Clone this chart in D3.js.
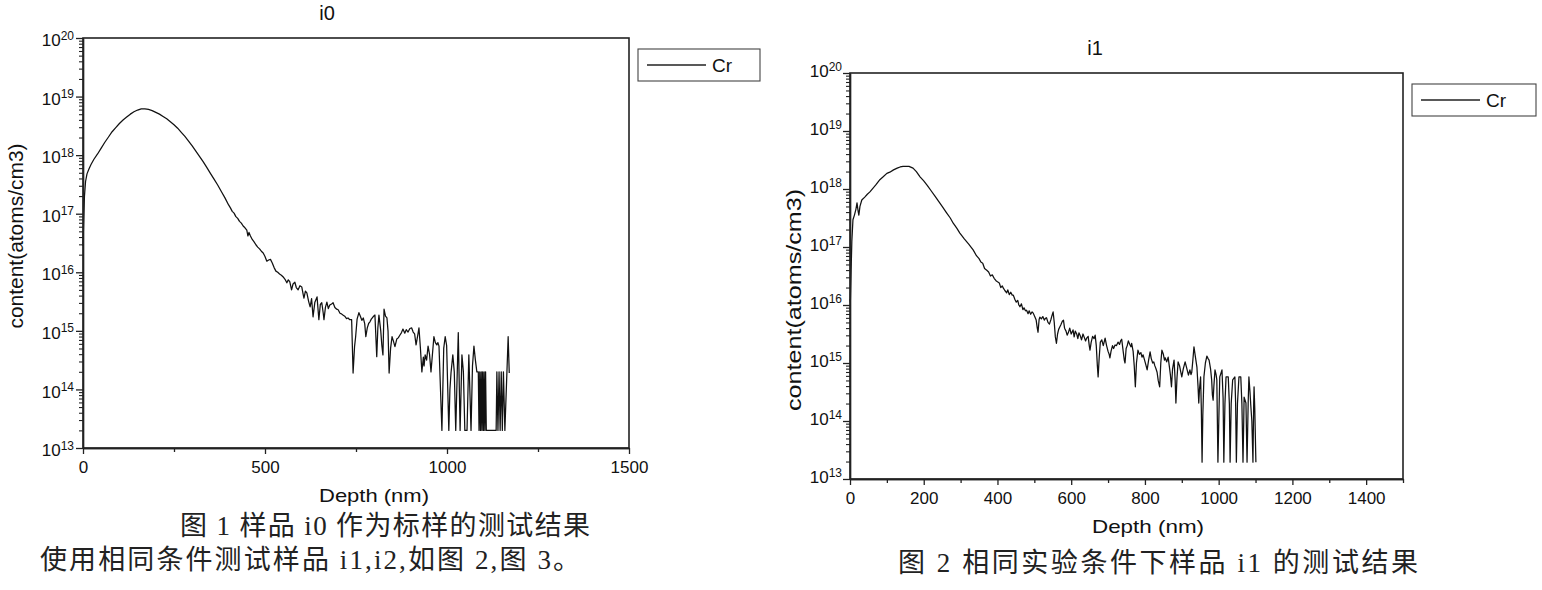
<!DOCTYPE html>
<html>
<head>
<meta charset="utf-8">
<script src="https://cdn.jsdelivr.net/npm/d3@7"></script>
<style>
html,body{margin:0;padding:0;background:#fff;}
svg{display:block;}
</style>
</head>
<body>
<svg id="chart" width="1542" height="590"></svg>
<script>
// ---------------- DATA ----------------
// Depth in nm; content stored as log10(atoms/cm3) as read on the log axis.
const i0Depth = [
  0,2,4,7,11,16,22,30,
  40,50,60,70,80,90,100,110,120,130,140,150,160,170,180,190,200,210,220,230,240,250,260,270,280,290,300,310,320,330,340,350,360,370,380,390,400,
  405,410,415,420,425,430,435,440,445,450,
  453,456,460,465,470,475,480,485,490,495,500,505,510,515,520,525,530,535,540,545,550,555,560,
  564,568,573,577,582,586,591,596,601,605,607,611,615,620,624,628,632,637,643,648,
  652,656,660,662,666,670,674,678,683,687,692,697,701,706,710,714,719,724,728,733,738,
  742,746,749,753,758,762,766,770,774,777,781,785,788,792,797,802,
  807,810,813,818,821,824,827,831,835,838,841,845,849,853,857,862,866,870,875,879,
  884,888,893,898,903,907,911,915,919,923,927,931,935,937,940,944,948,952,956,960,
  964,968,972,975,978,986,991,995,999,1005,1008,1011,1016,1020,1024,1031,1036,1041,1045,1049,
  1055,1060,1066,1070,1074,1078,1082,1086,1088,1090,1092,1094,1096,1098,1100,1102,1104,1106,1108,
  1113,1120,1128,1135,1137,1140,1143,1146,1149,1152,1155,1159,1168,1171
];
const i0LogContent = [
  16.45,16.9,17.3,17.55,17.68,17.76,17.84,17.93,
  18.02,18.12,18.22,18.31,18.40,18.47,18.54,18.60,18.65,18.70,18.74,18.77,18.79,18.79,18.78,18.76,18.73,18.70,18.66,18.62,18.57,18.52,18.46,18.39,18.32,18.24,18.16,18.07,17.98,17.89,17.79,17.69,17.59,17.49,17.38,17.27,17.15,
  17.10,17.04,17.01,16.95,16.92,16.87,16.84,16.79,16.76,16.72,
  16.62,16.68,16.62,16.56,16.52,16.47,16.43,16.40,16.36,16.33,16.27,16.19,16.21,16.22,16.16,16.08,16.02,16.00,15.97,15.95,15.92,15.88,15.82,
  15.87,15.84,15.70,15.80,15.83,15.74,15.70,15.77,15.75,15.62,15.56,15.68,15.65,15.50,15.41,15.55,15.24,15.49,15.58,15.19,
  15.45,15.48,15.30,15.19,15.40,15.49,15.38,15.44,15.46,15.48,15.40,15.37,15.36,15.30,15.29,15.27,15.25,15.21,15.22,15.19,15.19,
  14.28,14.73,14.90,15.20,15.31,15.25,15.18,15.22,15.12,14.90,15.05,15.13,15.15,15.20,15.24,15.27,
  14.56,15.05,15.27,15.00,14.75,14.59,15.37,15.25,15.22,15.00,14.28,14.70,14.90,14.82,14.73,14.86,14.88,14.92,14.97,15.03,
  14.96,15.02,14.98,15.04,15.05,14.98,14.95,14.76,14.90,15.05,14.70,14.30,14.55,14.40,14.59,14.50,14.74,14.60,14.30,14.60,
  14.90,14.80,14.76,14.80,14.74,13.30,14.70,14.90,14.75,13.30,14.00,14.28,14.59,14.30,13.30,14.97,13.30,14.59,14.30,13.30,
  13.30,14.59,13.30,14.40,14.74,14.50,14.30,14.30,13.30,14.30,13.30,14.30,13.30,14.30,13.30,14.30,13.30,14.30,13.30,
  13.30,13.30,13.30,13.30,14.30,13.30,14.30,13.30,14.30,13.30,14.30,13.30,14.90,14.28
];

const i1Depth = [
  0,1,3,5,8,12,16,19,22,24,27,32,40,47,54,62,70,81,90,100,
  108,118,128,136,144,152,160,171,180,190,200,210,220,230,240,250,262,272,280,290,
  298,310,322,334,343,350,355,360,365,371,376,381,386,391,396,400,405,409,413,416,
  420,425,428,432,436,440,443,447,451,455,458,461,465,469,472,476,479,483,486,490,
  494,497,501,505,508,510,513,515,519,523,527,530,533,537,541,545,548,551,554,557,
  560,563,566,569,572,576,579,582,586,589,592,596,600,605,608,611,615,618,621,624,
  628,632,635,639,642,646,649,651,654,658,662,665,668,671,673,676,679,683,687,692,
  696,700,703,705,708,712,715,719,723,727,731,734,737,741,744,746,749,752,755,759,
  762,764,768,771,774,777,781,785,789,792,795,799,802,806,810,814,817,821,824,827,
  830,833,836,840,843,846,850,853,855,859,863,866,869,872,875,879,882,884,887,890,
  894,897,900,904,909,913,918,922,925,927,930,933,937,941,944,946,948,951,953,955,
  957,960,964,968,971,974,978,981,983,985,987,990,993,995,998,1001,1003,1006,1009,1012,
  1014,1017,1020,1026,1029,1031,1034,1038,1044,1046,1048,1051,1055,1060,1063,1066,1068,1069,1074,1077,
  1080,1082,1085,1087,1090,1093,1095,1096,1098,1101
];
const i1LogContent = [
  16.10,16.05,16.60,17.10,17.47,17.55,17.65,17.76,17.62,17.55,17.70,17.81,17.86,17.91,17.95,18.01,18.07,18.16,18.21,18.27,
  18.29,18.33,18.36,18.38,18.39,18.39,18.39,18.36,18.30,18.21,18.14,18.06,17.97,17.88,17.79,17.70,17.59,17.50,17.41,17.32,
  17.24,17.14,17.05,16.95,16.85,16.80,16.74,16.72,16.63,16.60,16.57,16.50,16.52,16.46,16.42,16.40,16.38,16.30,16.33,16.29,
  16.25,16.21,16.26,16.18,16.22,16.17,16.17,16.10,16.05,16.08,16.00,15.97,16.02,15.92,15.95,15.90,15.91,15.85,15.90,15.84,
  15.88,15.86,15.80,15.74,15.60,15.53,15.75,15.79,15.76,15.80,15.74,15.77,15.78,15.70,15.67,15.75,15.82,15.88,15.70,15.45,
  15.34,15.50,15.58,15.62,15.66,15.72,15.74,15.60,15.55,15.48,15.52,15.60,15.50,15.57,15.45,15.55,15.50,15.42,15.52,15.48,
  15.40,15.50,15.45,15.38,15.43,15.46,15.30,15.22,15.35,15.46,15.42,15.48,15.30,14.95,14.76,15.10,15.36,15.40,15.30,15.43,
  15.30,15.20,15.15,15.09,15.20,15.30,15.25,15.31,15.30,15.36,15.32,15.38,15.41,15.20,15.05,15.00,15.25,15.30,15.38,15.32,
  15.28,15.34,15.20,14.95,14.59,15.00,15.22,15.15,15.18,15.10,15.14,15.05,14.98,14.88,15.05,15.19,15.08,15.00,15.02,14.95,
  14.90,14.84,14.70,14.59,15.00,15.22,15.15,15.05,15.09,15.02,15.10,14.95,14.80,14.59,14.90,15.05,14.70,14.31,14.75,15.02,
  14.95,14.85,14.76,14.90,15.02,14.92,14.79,14.88,14.80,14.84,15.05,15.28,15.10,14.93,14.60,14.31,14.55,14.76,14.20,13.29,
  14.10,14.76,15.00,15.12,15.08,15.05,14.90,14.71,14.45,14.36,14.60,14.88,14.80,14.71,13.29,14.20,14.76,14.82,14.88,14.40,
  13.29,14.30,14.76,14.76,14.30,13.29,14.30,14.71,14.76,14.30,13.29,14.30,14.76,14.76,14.30,13.29,14.00,14.41,14.31,13.29,
  14.30,14.76,14.50,14.28,14.00,13.29,14.30,14.59,14.20,13.29
];

const contentDomain = [1e13, 1e20];
const decadeTicks = [1e13, 1e14, 1e15, 1e16, 1e17, 1e18, 1e19, 1e20];
const i0DepthTicks = [0, 500, 1000, 1500];
const i0DepthMinorTicks = [250, 750, 1250];
const i1DepthTicks = [0, 200, 400, 600, 800, 1000, 1200, 1400];
const i1DepthMinorTicks = [100, 300, 500, 700, 900, 1100, 1300, 1500];
const seriesName = "Cr";
const panelTitles = ["i0", "i1"];
const xAxisTitle = "Depth (nm)";
const yAxisTitle = "content(atoms/cm3)";
const captions = [
  "图 1 样品 i0 作为标样的测试结果",
  "使用相同条件测试样品 i1,i2,如图 2,图 3。",
  "图 2 相同实验条件下样品 i1 的测试结果"
];

// ---------------- LAYOUT ----------------
const SANS = "'Liberation Sans', Arial, sans-serif";
const SERIF = "'Liberation Serif', 'Noto Sans CJK SC', serif";
const AXC = "#222";
const svg = d3.select("#chart");

const panels = [
  { depth: i0Depth, logc: i0LogContent, title: panelTitles[0],
    left: 83, right: 629, top: 38, bottom: 448, xMax: 1500,
    major: i0DepthTicks, minor: i0DepthMinorTicks,
    titleX: 327, titleY: 20,
    xLabX: 374, xLabY: 502, xLabLen: 110,
    yLabX: 16, yLabY: 236, yLabLen: 185,
    yTickDy: "0.45em", yTickPad: 2,
    legend: { x: 638, y: 49, w: 122, h: 32 } },
  { depth: i1Depth, logc: i1LogContent, title: panelTitles[1],
    left: 850, right: 1403, top: 73, bottom: 479, xMax: 1500,
    major: i1DepthTicks, minor: i1DepthMinorTicks,
    titleX: 1095, titleY: 55,
    xLabX: 1148, xLabY: 533, xLabLen: 112,
    yLabX: 794, yLabY: 300, yLabLen: 222,
    yTickDy: "0.22em", yTickPad: 1,
    legend: { x: 1412, y: 84, w: 124, h: 32 } }
];

function isDecade(v) {
  const l = Math.log10(v);
  return Math.abs(l - Math.round(l)) < 1e-9;
}

function drawPanel(p) {
  const g = svg.append("g");
  const x = d3.scaleLinear().domain([0, p.xMax]).range([p.left, p.right]);
  const y = d3.scaleLog().domain(contentDomain).range([p.bottom, p.top]);

  // frame
  g.append("rect")
    .attr("x", p.left).attr("y", p.top)
    .attr("width", p.right - p.left).attr("height", p.bottom - p.top)
    .attr("fill", "none").attr("stroke", AXC).attr("stroke-width", 1.6);

  // data line
  const pts = d3.zip(p.depth, p.logc);
  g.append("path").datum(pts)
    .attr("d", d3.line().x(d => x(d[0])).y(d => y(Math.pow(10, d[1]))))
    .attr("fill", "none").attr("stroke", "#111")
    .attr("stroke-width", 1.25).attr("stroke-linejoin", "round");

  // y minor ticks
  const minors = y.ticks().filter(v => !isDecade(v));
  g.append("g").attr("transform", `translate(${p.left},0)`)
    .call(d3.axisLeft(y).tickValues(minors).tickSize(4).tickSizeOuter(0).tickFormat(""))
    .call(s => s.selectAll("line,path").attr("stroke", AXC).attr("stroke-width", 1.1));

  // y major ticks with 10^n labels
  g.append("g").attr("transform", `translate(${p.left},0)`)
    .call(d3.axisLeft(y).tickValues(decadeTicks).tickSize(7).tickSizeOuter(0).tickPadding(p.yTickPad).tickFormat(() => ""))
    .call(s => s.select(".domain").attr("stroke", AXC).attr("stroke-width", 1.6))
    .call(s => s.selectAll(".tick line").attr("stroke", AXC).attr("stroke-width", 1.3))
    .call(s => s.selectAll(".tick text").each(function(d) {
      const t = d3.select(this);
      t.text(null).attr("font-family", SANS).attr("font-size", 17).attr("fill", "#111").attr("dy", p.yTickDy);
      t.append("tspan").text("10");
      t.append("tspan").attr("dy", "-0.55em").attr("font-size", 12).text(Math.round(Math.log10(d)));
    }));

  // x minor ticks
  g.append("g").attr("transform", `translate(0,${p.bottom})`)
    .call(d3.axisBottom(x).tickValues(p.minor).tickSize(4).tickSizeOuter(0).tickFormat(""))
    .call(s => s.selectAll("line,path").attr("stroke", AXC).attr("stroke-width", 1.3));

  // x major ticks
  g.append("g").attr("transform", `translate(0,${p.bottom})`)
    .call(d3.axisBottom(x).tickValues(p.major).tickSize(6).tickSizeOuter(0).tickPadding(7).tickFormat(d3.format("d")))
    .call(s => s.select(".domain").attr("stroke", AXC).attr("stroke-width", 1.6))
    .call(s => s.selectAll(".tick line").attr("stroke", AXC).attr("stroke-width", 1.3))
    .call(s => s.selectAll(".tick text").attr("font-family", SANS).attr("font-size", 17).attr("fill", "#111"));

  // title
  g.append("text").attr("x", p.titleX).attr("y", p.titleY)
    .attr("text-anchor", "middle").attr("font-family", SANS).attr("font-size", 20).attr("fill", "#111")
    .text(p.title);

  // x axis title
  g.append("text").attr("x", p.xLabX).attr("y", p.xLabY)
    .attr("text-anchor", "middle").attr("font-family", SANS).attr("font-size", 19).attr("fill", "#111")
    .attr("textLength", p.xLabLen).attr("lengthAdjust", "spacingAndGlyphs")
    .text(xAxisTitle);

  // y axis title
  g.append("text")
    .attr("transform", `translate(${p.yLabX},${p.yLabY}) rotate(-90)`)
    .attr("text-anchor", "middle").attr("dominant-baseline", "central")
    .attr("font-family", SANS).attr("font-size", 20).attr("fill", "#111")
    .attr("textLength", p.yLabLen).attr("lengthAdjust", "spacingAndGlyphs")
    .text(yAxisTitle);

  // legend
  const L = p.legend;
  const lg = g.append("g");
  lg.append("rect").attr("x", L.x).attr("y", L.y).attr("width", L.w).attr("height", L.h)
    .attr("fill", "#fff").attr("stroke", "#444").attr("stroke-width", 1.1);
  lg.append("line").attr("x1", L.x + 9).attr("x2", L.x + 68)
    .attr("y1", L.y + L.h / 2).attr("y2", L.y + L.h / 2)
    .attr("stroke", "#222").attr("stroke-width", 1.3);
  lg.append("text").attr("x", L.x + 74).attr("y", L.y + L.h / 2 + 7)
    .attr("font-family", SANS).attr("font-size", 19).attr("fill", "#111")
    .text(seriesName);
}

panels.forEach(drawPanel);

// captions
const capStyle = s => s.attr("font-family", SERIF).attr("font-size", 27).attr("fill", "#222")
  .attr("lengthAdjust", "spacing");
svg.append("text").attr("x", 385).attr("y", 535).attr("text-anchor", "middle")
  .call(capStyle).attr("textLength", 410).text(captions[0]);
svg.append("text").attr("x", 40).attr("y", 569).attr("text-anchor", "start")
  .call(capStyle).attr("textLength", 540).text(captions[1]);
svg.append("text").attr("x", 1158).attr("y", 572).attr("text-anchor", "middle")
  .call(capStyle).attr("textLength", 520).text(captions[2]);
</script>
</body>
</html>
